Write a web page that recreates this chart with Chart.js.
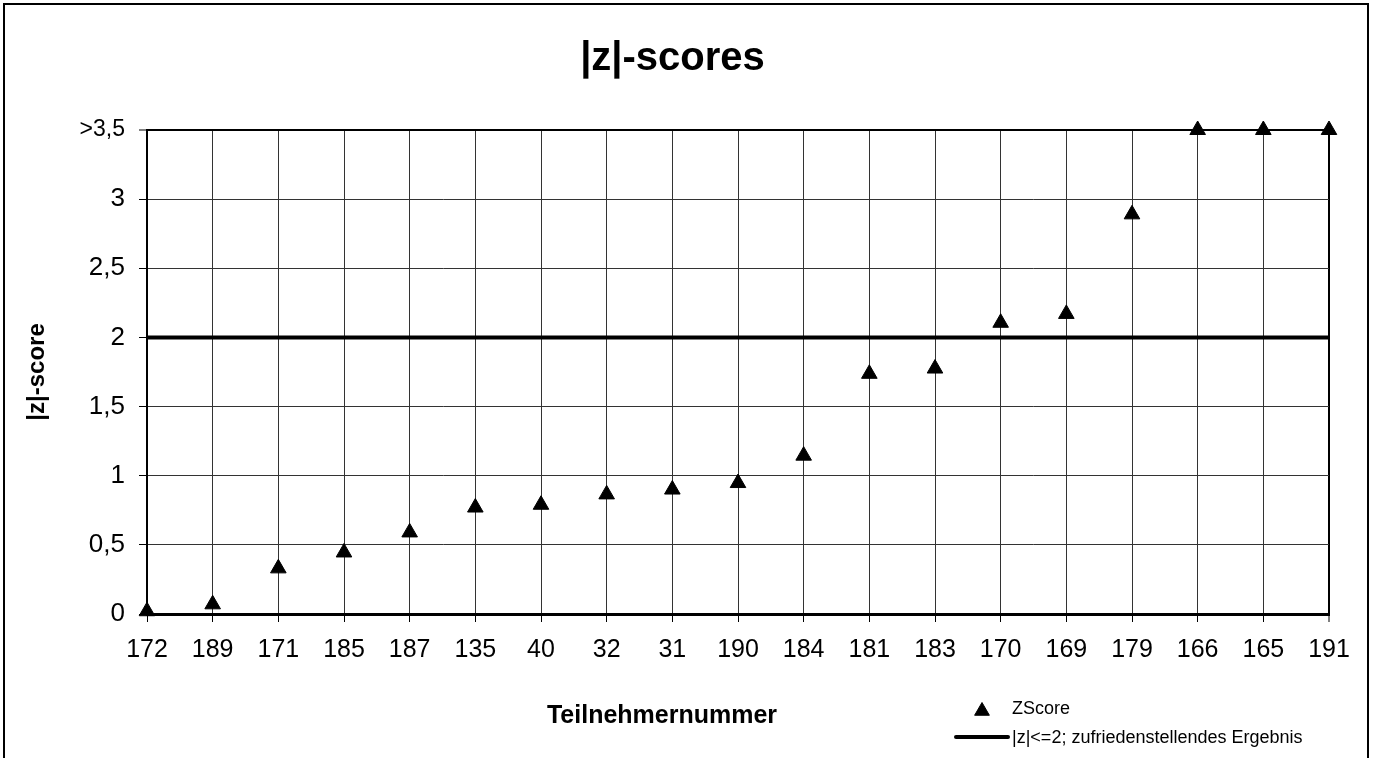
<!DOCTYPE html>
<html>
<head>
<meta charset="utf-8">
<script src="https://cdn.jsdelivr.net/npm/chart.js@4/dist/chart.umd.min.js"></script>
<style>
  html, body { margin: 0; padding: 0; background: #fff; }
  #wrap { width: 1374px; height: 758px; position: relative; }
</style>
</head>
<body>
<div id="wrap"><canvas id="chart"></canvas></div>
<script>
// Teilnehmer sortiert nach |z|-score; Werte über 3,5 werden bei 3,5 gezeigt.
const participants = ["172", "189", "171", "185", "187", "135", "40", "32", "31", "190",
  "184", "181", "183", "170", "169", "179", "166", "165", "191"];
const zScores = [0.02, 0.07, 0.33, 0.445, 0.59, 0.77, 0.79, 0.865, 0.90, 0.947,
  1.145, 1.737, 1.775, 2.106, 2.17, 2.89, 3.5, 3.5, 3.5];
const limitLine = [2, 2, 2, 2, 2, 2, 2, 2, 2, 2, 2, 2, 2, 2, 2, 2, 2, 2, 2];
const yTicks = [0, 0.5, 1, 1.5, 2, 2.5, 3, 3.5];
const yTickLabels = ["0", "0,5", "1", "1,5", "2", "2,5", "3", ">3,5"];

const FONT = "'Liberation Sans', Arial, sans-serif";
const GRID = "#333";
Chart.defaults.font.family = FONT;
Chart.defaults.color = "#000";

// Rahmen, x-Achsentitel und Legende (zweizeilig, rechts unten) selbst zeichnen.
const extras = {
  id: "extras",
  afterDraw(chart) {
    const { ctx } = chart;
    const ds = chart.data.datasets;
    ctx.save();
    ctx.strokeStyle = "#000";
    ctx.fillStyle = "#000";
    ctx.lineWidth = 2;
    ctx.strokeRect(4, 4, 1364, 800);

    ctx.font = `bold 25px ${FONT}`;
    ctx.textAlign = "center";
    ctx.textBaseline = "middle";
    ctx.fillText("Teilnehmernummer", 662, 716);

    ctx.lineWidth = 1;
    Chart.helpers.drawPoint(ctx, { pointStyle: "triangle", radius: 8.5, borderWidth: 1 }, 982, 711);
    ctx.font = `18px ${FONT}`;
    ctx.textAlign = "left";
    ctx.fillText(ds[0].label, 1012, 709);

    ctx.lineWidth = 4;
    ctx.lineCap = "round";
    ctx.beginPath();
    ctx.moveTo(956, 737);
    ctx.lineTo(1008, 737);
    ctx.stroke();
    ctx.fillText(ds[1].label, 1012, 738);
    ctx.restore();
  },
};

const lastX = participants.length - 1;
const lastY = yTicks.length - 1;

new Chart(document.getElementById("chart"), {
  type: "line",
  data: {
    labels: participants,
    datasets: [
      {
        label: "ZScore", data: zScores, showLine: false, pointStyle: "triangle",
        pointRadius: 9, backgroundColor: "#000", borderColor: "#000", borderWidth: 1, clip: false,
      },
      {
        label: "|z|<=2; zufriedenstellendes Ergebnis", data: limitLine,
        borderColor: "#000", borderWidth: 4, pointRadius: 0, fill: false, clip: false,
      },
    ],
  },
  options: {
    responsive: true,
    maintainAspectRatio: false,
    animation: false,
    events: [],
    layout: { padding: { top: 8, left: 16, right: 45, bottom: 84 } },
    plugins: {
      legend: { display: false },
      tooltip: { enabled: false },
      title: {
        display: true, text: "|z|-scores", color: "#000",
        font: { family: FONT, size: 40, weight: "bold" },
        padding: { top: 27, bottom: 47 },
      },
    },
    scales: {
      x: {
        offset: false,
        afterFit: s => { s.height = 60; },
        ticks: { color: "#000", font: { family: FONT, size: 25 }, padding: 13, autoSkip: false, maxRotation: 0 },
        grid: {
          color: c => c.index === lastX ? "#000" : GRID,
          lineWidth: c => c.index === lastX ? 2 : 1,
          tickLength: 8, tickColor: "#000", tickWidth: 1,
        },
        border: { color: "#000", width: 3 },
      },
      y: {
        min: 0, max: 3.5,
        afterBuildTicks: s => { s.ticks = yTicks.map(value => ({ value })); },
        afterFit: s => { s.width = 131; },
        ticks: {
          color: "#000", padding: 14,
          callback: (v, i) => yTickLabels[i],
          font: c => ({ family: FONT, size: c.index === lastY ? 23 : 26 }),
        },
        grid: {
          color: c => c.index === lastY ? "#000" : GRID,
          lineWidth: c => c.index === lastY ? 2 : 1,
          tickLength: 8, tickColor: "#000", tickWidth: 1,
        },
        border: { color: "#000", width: 2 },
        title: {
          display: true, text: "|z|-score", color: "#000",
          font: { family: FONT, size: 24, weight: "bold" },
          padding: { top: 7, bottom: 0 },
        },
      },
    },
  },
  plugins: [extras],
});
</script>
</body>
</html>
